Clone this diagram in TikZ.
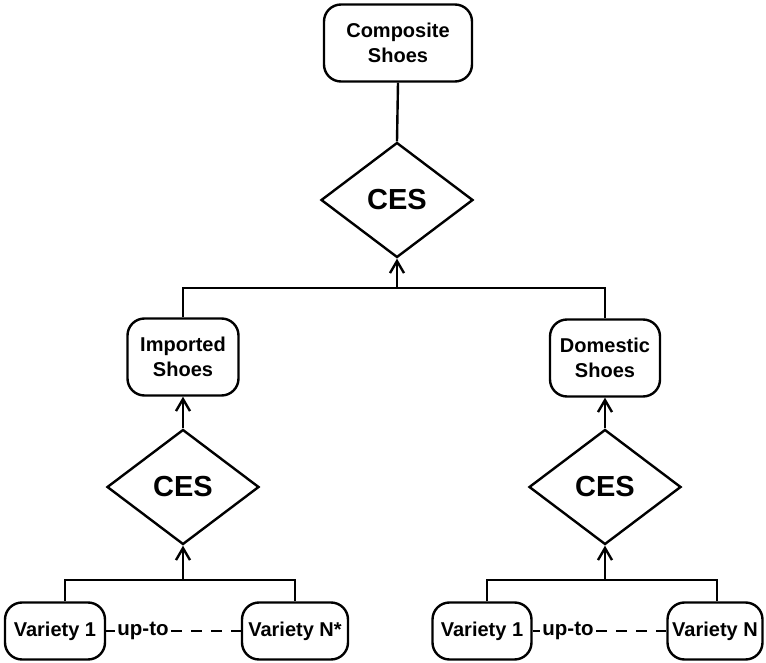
\documentclass[tikz,border=0pt]{standalone}
\usepackage{fontspec}
\setmainfont{Liberation Sans}
\usetikzlibrary{shapes.geometric,arrows.meta}
\begin{document}
\begin{tikzpicture}[x=1pt,y=-1pt, line width=2.4pt,
  box/.style={draw, rounded corners=17pt, align=center, inner sep=0pt,
    font=\fontsize{20}{25}\selectfont\bfseries},
  dia/.style={draw, diamond, inner sep=0pt, minimum width=152pt, minimum height=115pt,
    font=\fontsize{29}{30}\selectfont\bfseries},
  arr/.style={-{Straight Barb[length=12pt,width=14pt]}},
  lbl/.style={inner sep=1.5pt, font=\fontsize{20.5}{22}\selectfont\bfseries},
  dsh/.style={dash pattern=on 11pt off 9pt}]
\useasboundingbox (0,0) rectangle (766,663);
% nodes
\node[box, minimum width=148pt, minimum height=77pt] (comp) at (398,43) {Composite\\Shoes};
\node[dia] (ces0) at (397,200) {CES};
\node[box, minimum width=111pt, minimum height=77pt] (imp) at (183,357) {Imported\\Shoes};
\node[box, minimum width=110pt, minimum height=77pt] (dom) at (605,358) {Domestic\\Shoes};
\node[dia] (ces1) at (183,487) {CES};
\node[dia] (ces2) at (605,487) {CES};
\node[box, minimum width=100pt, minimum height=57pt] (v1L) at (55,631) {Variety 1};
\node[box, minimum width=106pt, minimum height=57pt] (vNL) at (295,631) {Variety N*};
\node[box, minimum width=99pt, minimum height=57pt] (v1R) at (482,631) {Variety 1};
\node[box, minimum width=95pt, minimum height=57pt] (vNR) at (715,631) {Variety N};
\node[lbl] (upL) at (143,631) {up-to};
\node[lbl] (upR) at (568,631) {up-to};
\coordinate (busT) at (397,288);
\coordinate (busL) at (183,580);
\coordinate (busR) at (605,580);
% connectors
\draw (comp.south) -- (ces0.north);
\draw (imp.north) |- (busT) -| (dom.north);
\draw[arr] (busT) -- (ces0.south);
\draw[arr] (ces1.north) -- (imp.south);
\draw[arr] (ces2.north) -- (dom.south);
\draw ([xshift=10pt]v1L.north) |- (busL) -| (vNL.north);
\draw[arr] (busL) -- (ces1.south);
\draw ([xshift=5pt]v1R.north) |- (busR) -| ([xshift=2pt]vNR.north);
\draw[arr] (busR) -- (ces2.south);
\draw (v1L.east) -- (upL.west);
\draw[dsh] (upL.east) -- (vNL.west);
\draw (v1R.east) -- (upR.west);
\draw[dsh] (upR.east) -- (vNR.west);
\end{tikzpicture}
\end{document}
